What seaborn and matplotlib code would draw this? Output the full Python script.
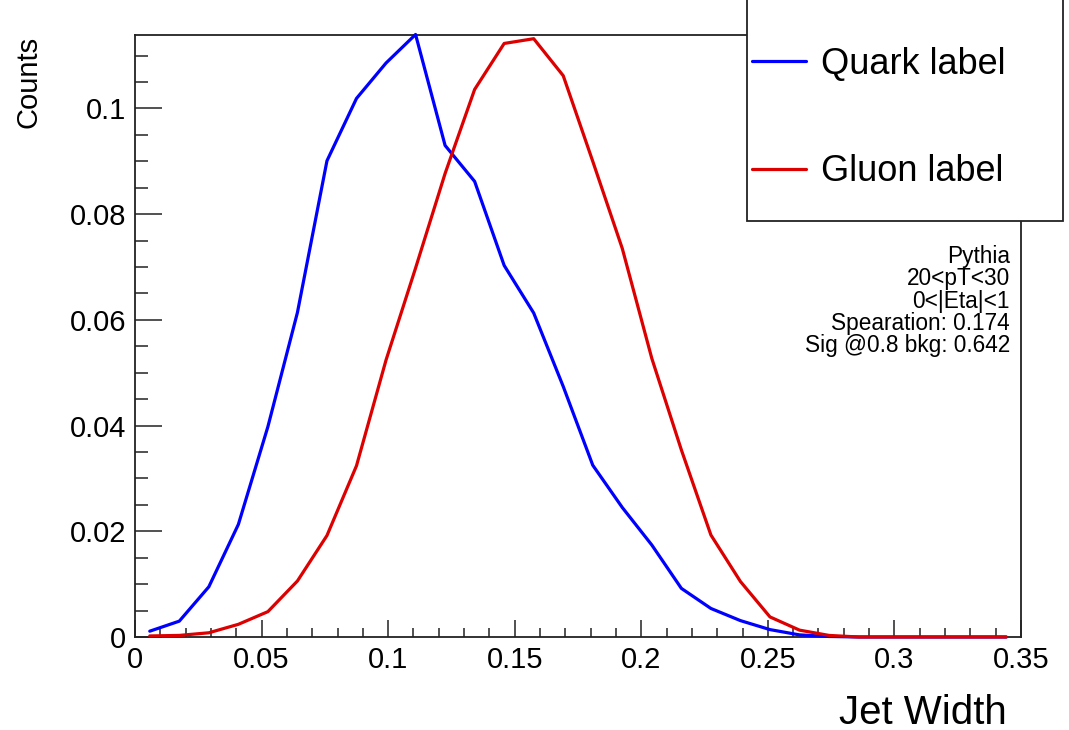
import numpy as np
import pandas as pd
import matplotlib
matplotlib.use("Agg")
import matplotlib.pyplot as plt
from matplotlib.patches import Rectangle
from matplotlib.ticker import FixedLocator, MultipleLocator, FuncFormatter
import seaborn as sns

# ---- data -------------------------------------------------------------
bin_lo = 0.0
bin_hi = 0.35
n_bins = 30
quark_counts = [0.0011, 0.0030, 0.0095, 0.0213, 0.0398, 0.0614, 0.0901, 0.1019,
                0.1086, 0.1140, 0.0930, 0.0862, 0.0703, 0.0613, 0.0474, 0.0325,
                0.0245, 0.0174, 0.0092, 0.0054, 0.0031, 0.0014, 0.0004, 0.0001,
                0.0, 0.0, 0.0, 0.0, 0.0, 0.0]
gluon_counts = [0.0002, 0.0003, 0.0008, 0.0024, 0.0048, 0.0106, 0.0192, 0.0324,
                0.0524, 0.0698, 0.0877, 0.1036, 0.1123, 0.1132, 0.1062, 0.0900,
                0.0735, 0.0527, 0.0354, 0.0193, 0.0105, 0.0038, 0.0013, 0.0003,
                0.0, 0.0, 0.0, 0.0, 0.0, 0.0]
series_names = ["Quark label", "Gluon label"]
x_ticks = [0, 0.05, 0.1, 0.15, 0.2, 0.25, 0.3, 0.35]
y_ticks = [0, 0.02, 0.04, 0.06, 0.08, 0.1]
info_lines = ["Pythia", "20<pT<30", "0<|Eta|<1", "Spearation: 0.174", "Sig @0.8 bkg: 0.642"]
x_title = "Jet Width"
y_title = "Counts"

edges = np.linspace(bin_lo, bin_hi, n_bins + 1)
centers = 0.5 * (edges[:-1] + edges[1:])

# ---- style ------------------------------------------------------------
sns.set_theme(style="ticks")
plt.rcParams["font.family"] = ["Liberation Sans", "DejaVu Sans"]
plt.rcParams["text.color"] = "black"

W, H = 1069, 730
fig = plt.figure(figsize=(W / 100, H / 100), dpi=100)
ax = fig.add_axes([135 / W, 1 - 637 / H, (1021 - 135) / W, (637 - 35) / H])

colors = ["#0000ff", "#dd0000"]
for vals, name, col in zip([quark_counts, gluon_counts], series_names, colors):
    sns.lineplot(x=centers, y=vals, ax=ax, color=col, linewidth=2.3,
                 label=name, legend=False, clip_on=False, zorder=3)

ax.set_xlim(0, 0.35)
ax.set_ylim(0, 0.1139)
ax.set_xlabel("")
ax.set_ylabel("")

fmt = FuncFormatter(lambda v, p: "%g" % round(v, 4))
ax.xaxis.set_major_locator(FixedLocator(x_ticks))
ax.yaxis.set_major_locator(FixedLocator(y_ticks))
ax.xaxis.set_minor_locator(MultipleLocator(0.01))
ax.yaxis.set_minor_locator(MultipleLocator(0.005))
ax.xaxis.set_major_formatter(fmt)
ax.yaxis.set_major_formatter(fmt)

ax.tick_params(axis="both", which="both", direction="in", colors="#222222",
               labelcolor="black", labelsize=21, width=1.1)
ax.tick_params(axis="x", which="major", length=12.5, pad=6.5)
ax.tick_params(axis="x", which="minor", length=6.3)
ax.tick_params(axis="y", which="major", length=19.5, pad=6.5)
ax.tick_params(axis="y", which="minor", length=9.5)
for s in ax.spines.values():
    s.set_visible(True)
    s.set_color("#222222")
    s.set_linewidth(1.3)

# axis titles
fig.text(1007 / W, 1 - 724 / H, x_title, ha="right", va="baseline", fontsize=29,
         color="black")
fig.text(29 / W, 1 - 36 / H, y_title, ha="center", va="top", rotation=90,
         fontsize=21, color="black")

# legend box (extends above the canvas)
rect = Rectangle((747 / W, 1 - 221 / H), (1063 - 747) / W, 221 / H + 0.05,
                 transform=fig.transFigure, facecolor="white", edgecolor="#222222",
                 linewidth=1.3, zorder=1, clip_on=False)
fig.patches.append(rect)
handles, labels = ax.get_legend_handles_labels()
leg = fig.legend(handles, labels, loc="upper left",
                 bbox_to_anchor=(752 / W, 1 - 47 / H), frameon=False,
                 fontsize=26, handlelength=1.5, handletextpad=0.4,
                 labelspacing=2.0, borderpad=0, borderaxespad=0)
for l in leg.get_lines():
    l.set_linewidth(2.3)
for t in leg.get_texts():
    t.set_color("black")

# info text
fig.text(1010 / W, 1 - 245 / H, "\n".join(info_lines), ha="right", va="top",
         fontsize=16.3, linespacing=0.965, color="black")

fig.savefig("out.png", dpi=100)
